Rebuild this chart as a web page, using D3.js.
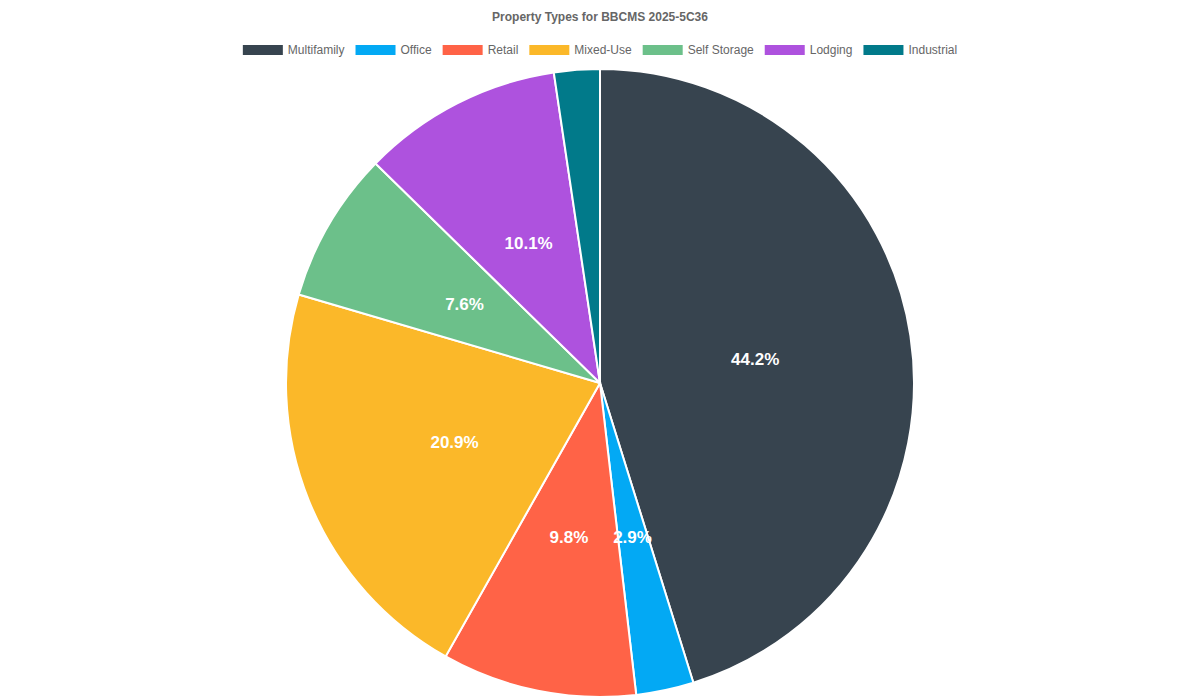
<!DOCTYPE html>
<html><head><meta charset="utf-8">
<script src="https://cdn.jsdelivr.net/npm/d3@7"></script>
<style>body{margin:0;background:#fff}svg{font-family:"Liberation Sans",Arial,sans-serif}</style>
</head><body>
<svg id="chart" width="1200" height="700"></svg>
<script>
// data
const categories = ["Multifamily", "Office", "Retail", "Mixed-Use", "Self Storage", "Lodging", "Industrial"];
const shares = [44.2, 2.9, 9.8, 20.9, 7.6, 10.1, 2.3];
const colors = ["#37444f", "#03a9f4", "#ff6347", "#fbb829", "#6cc08a", "#ae52de", "#017a8a"];

const svg = d3.select("#chart");
const cx = 600, cy = 383, r = 314;

svg.append("text").attr("x", 600).attr("y", 21).attr("text-anchor", "middle")
    .attr("font-size", 12).attr("font-weight", "bold").attr("fill", "#666")
    .text("Property Types for BBCMS 2025-5C36");

// legend, centred like chart.js
const legend = svg.append("g");
let x = 0;
categories.forEach((c, i) => {
    const g = legend.append("g").attr("transform", `translate(${x},0)`);
    g.append("rect").attr("width", 40).attr("height", 10).attr("y", 45).attr("fill", colors[i]);
    const t = g.append("text").attr("x", 45).attr("y", 54).attr("font-size", 12).attr("fill", "#666").text(c);
    x += 45 + t.node().getComputedTextLength() + 11;
});
legend.attr("transform", `translate(${600 - (x - 11) / 2},0)`);

const pie = d3.pie().sort(null).value(d => d);
const arc = d3.arc().innerRadius(0).outerRadius(r);
const labelArc = d3.arc().innerRadius(r / 2).outerRadius(r / 2);
const g = svg.append("g").attr("transform", `translate(${cx},${cy})`);
const arcs = pie(shares);

g.selectAll("path").data(arcs).join("path")
    .attr("d", arc).attr("fill", (d, i) => colors[i])
    .attr("stroke", "#fff").attr("stroke-width", 2);

g.selectAll("text").data(arcs.filter(d => d.data >= 2.5)).join("text")
    .attr("transform", d => `translate(${labelArc.centroid(d)})`)
    .attr("text-anchor", "middle").attr("dy", "0.35em")
    .attr("font-size", 17).attr("font-weight", "bold").attr("fill", "#fff")
    .text(d => d.data.toFixed(1) + "%");
</script>
</body></html>
